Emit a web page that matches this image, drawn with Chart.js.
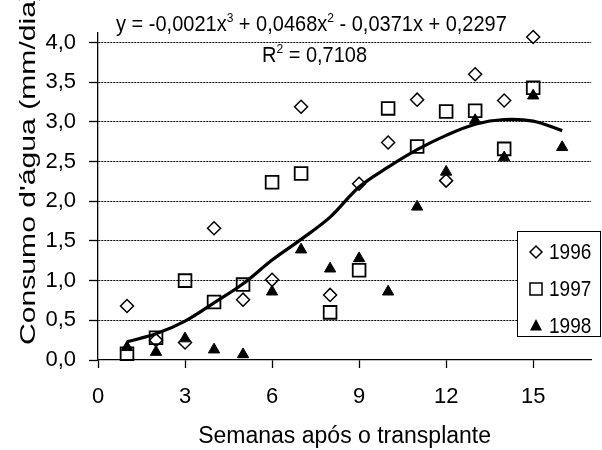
<!DOCTYPE html>
<html>
<head>
<meta charset="utf-8">
<script src="https://cdn.jsdelivr.net/npm/chart.js@4.4.0/dist/chart.umd.min.js"></script>
<style>
    html, body { margin: 0; padding: 0; background: #ffffff; }
    #wrap { width: 602px; height: 450px; }
</style>
</head>
<body>
<div id="wrap"><canvas id="waterChart" width="602" height="450"></canvas></div>
<script>
// Consumo d'água por semana após o transplante
const weeks = [1, 2, 3, 4, 5, 6, 7, 8, 9, 10, 11, 12, 13, 14, 15, 16];
const water1996 = [0.68, 0.25, 0.22, 1.66, 0.76, 1.01, 3.19, 0.82, 2.22, 2.74, 3.28, 2.26, 3.60, 3.27, 4.07];
const water1997 = [0.08, 0.28, 1.00, 0.73, 0.95, 2.24, 2.35, 0.60, 1.13, 3.17, 2.69, 3.13, 3.14, 2.66, 3.43];
const water1998 = [0.16, 0.10, 0.27, 0.13, 0.07, 0.86, 1.39, 1.15, 1.28, 0.86, 1.93, 2.37, 3.02, 2.55, 3.33, 2.68];
const trendValues = [0.23, 0.33, 0.49, 0.72, 0.96, 1.26, 1.52, 1.80, 2.18, 2.43, 2.65, 2.83, 2.97, 3.03, 3.01, 2.89];
const seriesLabels = ['1996', '1997', '1998'];
const xTicks = [0, 3, 6, 9, 12, 15];
const yTicks = [0, 0.5, 1, 1.5, 2, 2.5, 3, 3.5, 4];

const xTitle = 'Semanas após o transplante';
const yTitle = "Consumo d'água (mm/dia)";
const equation = ['y = -0,0021x', '3', ' + 0,0468x', '2', ' - 0,0371x + 0,2297'];
const rSquared = ['R', '2', ' = 0,7108'];

const fontFamily = "'Liberation Sans', Arial, sans-serif";

function toPoints(values) {
    return values.map((v, i) => ({ x: weeks[i], y: v }));
}

// draws a marker like the chart's point styles, for the legend box
function drawMarker(ctx, style, x, y) {
    ctx.save();
    ctx.strokeStyle = '#000';
    ctx.fillStyle = '#000';
    ctx.beginPath();
    if (style === 'rectRot') {
        ctx.lineWidth = 1.5;
        ctx.moveTo(x - 6, y); ctx.lineTo(x, y - 6); ctx.lineTo(x + 6, y); ctx.lineTo(x, y + 6);
        ctx.closePath();
        ctx.stroke();
    } else if (style === 'rect') {
        ctx.lineWidth = 1.5;
        ctx.rect(x - 6, y - 6, 12, 12);
        ctx.stroke();
    } else {
        ctx.moveTo(x, y - 7); ctx.lineTo(x + 6, y + 4.5); ctx.lineTo(x - 6, y + 4.5);
        ctx.closePath();
        ctx.fill();
    }
    ctx.restore();
}

// text with superscripts, slightly taller than wide like the source
function drawSuperText(ctx, parts, x, y, size) {
    ctx.save();
    ctx.translate(x, y);
    ctx.scale(1, 1.12);
    let cx = 0;
    parts.forEach((part, i) => {
        const sup = i % 2 === 1;
        ctx.font = (sup ? Math.round(size * 0.62) : size) + 'px ' + fontFamily;
        ctx.fillText(part, cx, sup ? -size * 0.38 : 0);
        cx += ctx.measureText(part).width;
    });
    ctx.restore();
}

const annotations = {
    id: 'annotations',
    afterDraw(chart) {
        const ctx = chart.ctx;
        const area = chart.chartArea;
        ctx.save();
        ctx.fillStyle = '#000';
        ctx.textBaseline = 'alphabetic';
        ctx.textAlign = 'left';

        // equation and R²
        drawSuperText(ctx, equation, 116, 31, 20);
        drawSuperText(ctx, rSquared, 262, 62, 20);

        // x axis title
        ctx.font = '23px ' + fontFamily;
        ctx.textAlign = 'center';
        ctx.fillText(xTitle, (area.left + area.right) / 2, 443);

        // y axis title, runs off the top like the original
        ctx.font = '22px ' + fontFamily;
        ctx.textAlign = 'left';
        const visible = ctx.measureText(yTitle.slice(0, -1)).width;
        const stretch = 344 / visible;
        ctx.save();
        ctx.translate(35, 345);
        ctx.rotate(-Math.PI / 2);
        ctx.scale(stretch, 1);
        ctx.fillText(yTitle, 0, 0);
        ctx.restore();

        // legend box
        const box = { x: 517.5, y: 231.5, w: 83, h: 105 };
        ctx.fillStyle = '#fff';
        ctx.fillRect(box.x, box.y, box.w, box.h);
        ctx.strokeStyle = '#000';
        ctx.lineWidth = 1;
        ctx.strokeRect(box.x, box.y, box.w, box.h);
        ctx.fillStyle = '#000';
        ctx.textBaseline = 'middle';
        const styles = ['rectRot', 'rect', 'triangle'];
        const rows = [252, 289, 326];
        seriesLabels.forEach((label, i) => {
            drawMarker(ctx, styles[i], 536, rows[i]);
            ctx.save();
            ctx.translate(549, rows[i] + 1);
            ctx.scale(1, 1.15);
            ctx.font = '19px ' + fontFamily;
            ctx.fillText(label, 0, 0);
            ctx.restore();
        });
        ctx.restore();
    }
};

const ctx = document.getElementById('waterChart');
new Chart(ctx, {
    type: 'scatter',
    data: {
        datasets: [
            {
                type: 'line',
                label: 'Tendência',
                data: toPoints(trendValues),
                borderColor: '#000',
                borderWidth: 3.2,
                pointRadius: 0,
                tension: 0.35,
                fill: false,
                clip: false,
                order: 0
            },
            {
                label: seriesLabels[0],
                data: toPoints(water1996),
                pointStyle: 'rectRot',
                pointRadius: 6.5,
                borderWidth: 1.5,
                borderColor: '#000',
                backgroundColor: 'rgba(0,0,0,0)',
                clip: false,
                order: 3
            },
            {
                label: seriesLabels[1],
                data: toPoints(water1997),
                pointStyle: 'rect',
                pointRadius: 9,
                borderWidth: 1.8,
                borderColor: '#000',
                backgroundColor: 'rgba(0,0,0,0)',
                clip: false,
                order: 2
            },
            {
                label: seriesLabels[2],
                data: toPoints(water1998),
                pointStyle: 'triangle',
                pointRadius: 6.5,
                borderWidth: 1,
                borderColor: '#000',
                backgroundColor: '#000',
                clip: false,
                order: 1
            }
        ]
    },
    options: {
        responsive: false,
        animation: false,
        events: [],
        layout: { padding: { top: 33, left: 0, right: 0, bottom: 0 } },
        plugins: {
            legend: { display: false },
            tooltip: { enabled: false }
        },
        scales: {
            x: {
                type: 'linear',
                min: 0,
                max: 17,
                afterBuildTicks: axis => { axis.ticks = xTicks.map(v => ({ value: v })); },
                afterFit: scale => { scale.height = 90; },
                grid: {
                    drawOnChartArea: false,
                    tickLength: 8,
                    tickColor: '#000',
                    tickWidth: 1.3
                },
                border: { color: '#000', width: 1.3 },
                ticks: {
                    color: '#000',
                    padding: 16,
                    maxRotation: 0,
                    font: { family: fontFamily, size: 22 },
                    callback: v => String(v)
                }
            },
            y: {
                min: 0,
                max: 4.12,
                afterBuildTicks: axis => { axis.ticks = yTicks.map(v => ({ value: v })); },
                afterFit: scale => { scale.width = 98; },
                grid: {
                    color: c => (c.tick && c.tick.value === 0 ? 'rgba(0,0,0,0)' : '#000'),
                    lineWidth: 1,
                    tickLength: 9,
                    tickColor: '#000',
                    tickWidth: 1.3
                },
                border: { color: '#000', width: 1.3, dash: [2, 1] },
                ticks: {
                    color: '#000',
                    padding: 13,
                    font: { family: fontFamily, size: 22 },
                    callback: v => v.toFixed(1).replace('.', ',')
                }
            }
        }
    },
    plugins: [annotations]
});
</script>
</body>
</html>
